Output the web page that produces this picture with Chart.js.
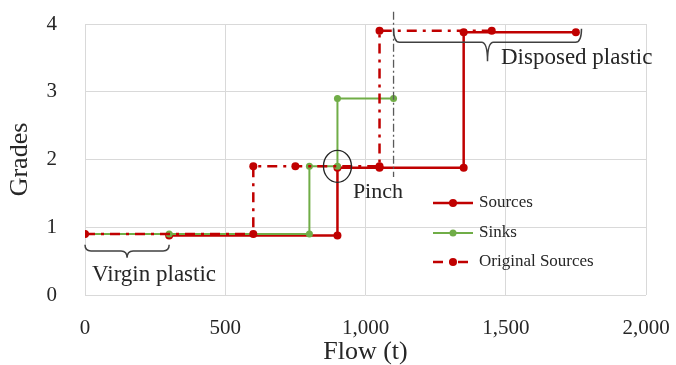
<!DOCTYPE html>
<html>
<head>
<meta charset="utf-8">
<script src="https://cdn.jsdelivr.net/npm/chart.js@4"></script>
<style>
  html, body { margin: 0; padding: 0; background: #fff; }
  #wrap { width: 676px; height: 365px; }
</style>
</head>
<body>
<div id="wrap"><canvas id="chart" width="676" height="365"></canvas></div>
<script>
// step curves
const sourcesX = [300, 900, 900, 1050, 1350, 1350, 1750];
const sourcesY = [0.88, 0.88, 1.88, 1.88, 1.88, 3.88, 3.88];
const sinksX = [0, 300, 800, 800, 900, 900, 1100];
const sinksY = [0.9, 0.9, 0.9, 1.9, 1.9, 2.9, 2.9];
const origX = [0, 600, 600, 750, 1050, 1050, 1450];
const origY = [0.9, 0.9, 1.9, 1.9, 1.9, 3.9, 3.9];
const xTicks = [0, 500, 1000, 1500, 2000];
const yTicks = [0, 1, 2, 3, 4];

const RED = '#C00000';
const GREEN = '#70AD47';
const TEXT = '#262626';
const SERIF = "'Liberation Serif', 'Times New Roman', serif";

const pts = (xs, ys) => xs.map((x, i) => ({ x, y: ys[i] }));

// annotation shapes, in data units
const notes = {
  pinch: { x: 900, y: 1.9, rx: 14, ry: 16, label: 'Pinch', lx: 955, ly: 1.52 },
  cutoff: { x: 1100, y0: 4.18, y1: 1.74 },
  virgin: { x0: 0, x1: 300, yTop: 0.74, yMid: 0.65, yTip: 0.55, label: 'Virgin plastic', lx: 25, ly: 0.3 },
  disposed: { x0: 1100, x1: 1770, yTop: 3.93, yMid: 3.73, yTip: 3.45, label: 'Disposed plastic', lx: 1483, ly: 3.5 }
};

function brace(ctx, x0, x1, yTop, yMid, yTip) {
  const xm = (x0 + x1) / 2;
  const r = 6;
  ctx.beginPath();
  ctx.moveTo(x0, yTop);
  ctx.quadraticCurveTo(x0, yMid, x0 + r, yMid);
  ctx.lineTo(xm - r, yMid);
  ctx.quadraticCurveTo(xm, yMid, xm, yTip);
  ctx.quadraticCurveTo(xm, yMid, xm + r, yMid);
  ctx.lineTo(x1 - r, yMid);
  ctx.quadraticCurveTo(x1, yMid, x1, yTop);
  ctx.stroke();
}

const extras = {
  id: 'extras',
  afterDatasetsDraw(chart) {
    const { ctx, scales: { x, y } } = chart;
    ctx.save();

    // cut-off line
    const c = notes.cutoff;
    ctx.strokeStyle = '#595959';
    ctx.lineWidth = 1.3;
    ctx.setLineDash([8, 3, 2, 3]);
    ctx.beginPath();
    ctx.moveTo(x.getPixelForValue(c.x), y.getPixelForValue(c.y0));
    ctx.lineTo(x.getPixelForValue(c.x), y.getPixelForValue(c.y1));
    ctx.stroke();
    ctx.setLineDash([]);

    // pinch circle
    const p = notes.pinch;
    ctx.strokeStyle = '#262626';
    ctx.lineWidth = 1.3;
    ctx.beginPath();
    ctx.ellipse(x.getPixelForValue(p.x), y.getPixelForValue(p.y), p.rx, p.ry, 0, 0, Math.PI * 2);
    ctx.stroke();

    // braces
    ctx.strokeStyle = '#404040';
    ctx.lineWidth = 1.5;
    [notes.virgin, notes.disposed].forEach(b => {
      brace(ctx, x.getPixelForValue(b.x0), x.getPixelForValue(b.x1),
        y.getPixelForValue(b.yTop), y.getPixelForValue(b.yMid), y.getPixelForValue(b.yTip));
    });

    ctx.fillStyle = TEXT;
    ctx.textBaseline = 'middle';
    ctx.textAlign = 'left';
    ctx.font = '22px ' + SERIF;
    ctx.fillText(p.label, x.getPixelForValue(p.lx), y.getPixelForValue(p.ly));
    ctx.font = '23px ' + SERIF;
    [notes.virgin, notes.disposed].forEach(b => {
      ctx.fillText(b.label, x.getPixelForValue(b.lx), y.getPixelForValue(b.ly));
    });

    // legend
    const rows = [203, 233, 262];
    chart.data.datasets.forEach((ds, i) => {
      const yy = rows[i];
      ctx.strokeStyle = ds.borderColor;
      ctx.lineWidth = ds.borderWidth;
      ctx.setLineDash(ds.borderDash || []);
      ctx.beginPath();
      ctx.moveTo(433, yy);
      ctx.lineTo(473, yy);
      ctx.stroke();
      ctx.setLineDash([]);
      ctx.fillStyle = ds.pointBackgroundColor;
      ctx.beginPath();
      ctx.arc(453, yy, ds.pointRadius, 0, Math.PI * 2);
      ctx.fill();
      ctx.fillStyle = TEXT;
      ctx.font = '17px ' + SERIF;
      ctx.fillText(ds.label, 479, yy);
    });
    ctx.restore();
  }
};

new Chart(document.getElementById('chart').getContext('2d'), {
  type: 'line',
  data: {
    datasets: [
      {
        label: 'Sources',
        data: pts(sourcesX, sourcesY),
        borderColor: RED,
        backgroundColor: RED,
        pointBackgroundColor: RED,
        pointBorderWidth: 0,
        pointRadius: 4,
        borderWidth: 2.5,
        order: 3
      },
      {
        label: 'Sinks',
        data: pts(sinksX, sinksY),
        borderColor: GREEN,
        backgroundColor: GREEN,
        pointBackgroundColor: GREEN,
        pointBorderWidth: 0,
        pointRadius: 3.5,
        borderWidth: 2,
        order: 2
      },
      {
        label: 'Original Sources',
        data: pts(origX, origY),
        borderColor: RED,
        backgroundColor: RED,
        pointBackgroundColor: RED,
        pointBorderWidth: 0,
        pointRadius: 4,
        borderWidth: 2.5,
        borderDash: [10, 6, 3, 6],
        order: 1
      }
    ]
  },
  options: {
    responsive: false,
    animation: false,
    layout: { padding: { top: 24, right: 30, left: 0, bottom: 0 } },
    plugins: {
      legend: { display: false },
      tooltip: { enabled: false }
    },
    elements: { line: { tension: 0, fill: false } },
    scales: {
      x: {
        type: 'linear',
        min: 0,
        max: 2000,
        afterBuildTicks: s => { s.ticks = xTicks.map(v => ({ value: v })); },
        afterFit: s => { s.height = 70; s.paddingLeft = 0; s.paddingRight = 0; },
        grid: { color: '#D9D9D9', lineWidth: 1, drawTicks: false },
        border: { display: false },
        ticks: {
          padding: 21,
          color: TEXT,
          font: { family: SERIF, size: 21 },
          callback: v => v.toLocaleString('en-US')
        },
        title: {
          display: true,
          text: 'Flow (t)',
          color: TEXT,
          font: { family: SERIF, size: 26, lineHeight: 1 },
          padding: { top: 0, bottom: 0 }
        }
      },
      y: {
        min: 0,
        max: 4,
        afterBuildTicks: s => { s.ticks = yTicks.map(v => ({ value: v })); },
        afterFit: s => { s.width = 85; s.paddingTop = 0; s.paddingBottom = 0; },
        grid: { color: '#D9D9D9', lineWidth: 1, drawTicks: false },
        border: { display: false },
        ticks: {
          padding: 28,
          color: TEXT,
          font: { family: SERIF, size: 21 }
        },
        title: {
          display: true,
          text: 'Grades',
          color: TEXT,
          font: { family: SERIF, size: 26 },
          padding: { top: 5, bottom: 0 }
        }
      }
    }
  },
  plugins: [extras]
});
</script>
</body>
</html>
